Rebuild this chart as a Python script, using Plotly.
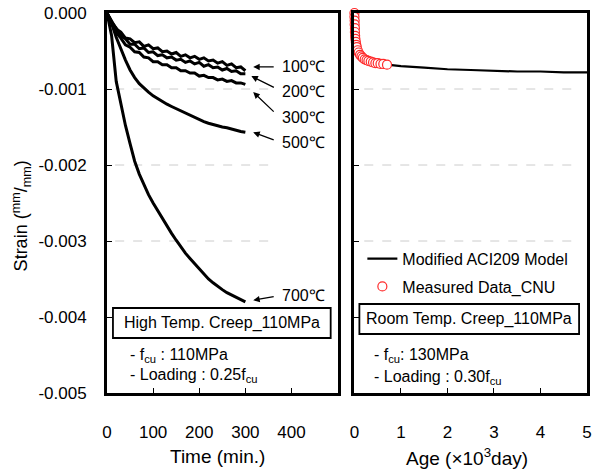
import plotly.graph_objects as go

# ---------------- data ----------------
time_min = [0, 10, 20, 30, 40, 50, 60, 70, 80, 90, 100, 110, 120, 130, 140, 150,
            160, 170, 180, 190, 200, 210, 220, 230, 240, 250, 260, 270, 280, 290, 300]

strain_100C = [0, -0.00010, -0.00021, -0.00025, -0.00033, -0.00034, -0.00039, -0.00038, -0.00044, -0.00042,
               -0.00047, -0.00046, -0.00051, -0.00050, -0.00054, -0.00052, -0.00057, -0.00055, -0.00059, -0.00057,
               -0.00061, -0.00059, -0.00063, -0.00062, -0.00066, -0.00064, -0.00069, -0.00067, -0.00072, -0.00071, -0.00076]
strain_200C = [0, -0.00012, -0.00020, -0.00030, -0.00034, -0.00041, -0.00041, -0.00047, -0.00046, -0.00052,
               -0.00051, -0.00056, -0.00055, -0.00059, -0.00058, -0.00062, -0.00061, -0.00065, -0.00063, -0.00067,
               -0.00065, -0.00070, -0.00068, -0.00072, -0.00071, -0.00075, -0.00073, -0.00077, -0.00076, -0.00080, -0.00080]
strain_300C = [0, -0.00013, -0.00026, -0.00033, -0.00042, -0.00045, -0.00051, -0.00052, -0.00058, -0.00059,
               -0.00064, -0.00064, -0.00068, -0.00068, -0.00072, -0.00072, -0.00076, -0.00076, -0.00079, -0.00079,
               -0.00083, -0.00082, -0.00085, -0.00085, -0.00088, -0.00087, -0.00090, -0.00089, -0.00092, -0.00092, -0.00094]
strain_500C = [0, -0.00014, -0.00032, -0.00048, -0.00062, -0.00075, -0.00085, -0.00093, -0.00099, -0.00104,
               -0.00109, -0.00113, -0.00116, -0.00120, -0.00123, -0.00126, -0.00129, -0.00132, -0.00135, -0.00138,
               -0.00141, -0.00143, -0.00145, -0.00147, -0.00149, -0.00150, -0.00151, -0.00153, -0.00154, -0.00156, -0.00157]
strain_700C = [0, -0.00030, -0.00090, -0.00120, -0.00148, -0.00172, -0.00195, -0.00212, -0.00226, -0.00239,
               -0.00250, -0.00260, -0.00270, -0.00281, -0.00290, -0.00299, -0.00308, -0.00316, -0.00323, -0.00330,
               -0.00337, -0.00344, -0.00350, -0.00355, -0.00360, -0.00364, -0.00368, -0.00371, -0.00374, -0.00377, -0.00380]

temp_labels = ["100℃", "200℃", "300℃", "500℃", "700℃"]

measured_age = [0.0, 0.0, 0.005, 0.005, 0.01, 0.01, 0.015, 0.02, 0.03, 0.04, 0.05, 0.07, 0.09,
                0.12, 0.15, 0.18, 0.22, 0.26, 0.30, 0.35, 0.40, 0.45, 0.50, 0.56, 0.62, 0.70]
measured_strain = [0.0, -0.00005, -0.00010, -0.00015, -0.00020, -0.00025, -0.00030, -0.00034, -0.00038,
                   -0.00042, -0.00045, -0.00049, -0.00052, -0.00055, -0.00057, -0.00059, -0.00061, -0.00062,
                   -0.00063, -0.00064, -0.00065, -0.00066, -0.00066, -0.00067, -0.00067, -0.00068]

model_age = [0.7, 1.0, 1.5, 2.0, 2.5, 3.0, 3.5, 4.0, 4.5, 5.0]
model_strain = [-0.00068, -0.00070, -0.00072, -0.00074, -0.00075, -0.00076, -0.00077, -0.00077, -0.00078, -0.00078]

y_ticks = [0, -0.001, -0.002, -0.003, -0.004, -0.005]
y_ticktext = ["0.000", "-0.001", "-0.002", "-0.003", "-0.004", "-0.005"]
x1_ticks = [0, 100, 200, 300, 400]
x2_ticks = [0, 1, 2, 3, 4, 5]
grid_levels = [-0.001, -0.002, -0.003]

# ---------------- figure ----------------
FONT = "Arial, Liberation Sans, sans-serif"
fig = go.Figure()

for s in [strain_100C, strain_200C, strain_300C, strain_500C, strain_700C]:
    fig.add_trace(go.Scatter(x=time_min, y=s, mode="lines", xaxis="x", yaxis="y",
                             line=dict(color="black", width=3), showlegend=False))

fig.add_trace(go.Scatter(x=model_age, y=model_strain, mode="lines", xaxis="x2", yaxis="y2",
                         name="Modified ACI209 Model", legendgroup="m",
                         line=dict(color="black", width=2.2), cliponaxis=False))
fig.add_trace(go.Scatter(x=measured_age, y=measured_strain, mode="markers", xaxis="x2", yaxis="y2",
                         name="Measured Data_CNU", legendgroup="d", cliponaxis=False,
                         marker=dict(symbol="circle", size=9, color="white",
                                     line=dict(color="#ff2a2a", width=1.2))))

axis_common = dict(showline=True, linewidth=3, linecolor="black", mirror=True,
                   ticks="inside", ticklen=5, tickwidth=1, tickcolor="black",
                   showgrid=False, zeroline=False,
                   tickfont=dict(family=FONT, size=17, color="black"))

fig.update_layout(
    width=593, height=469,
    margin=dict(l=107, r=1, t=13, b=76),
    paper_bgcolor="white", plot_bgcolor="white",
    xaxis=dict(domain=[0, 0.4804], range=[0, 500], tickvals=x1_ticks, anchor="y",
               ticklabelstandoff=22, **axis_common),
    yaxis=dict(domain=[0, 1], range=[-0.005, 0], tickvals=y_ticks, ticktext=y_ticktext,
               anchor="x", ticklabelstandoff=14, **axis_common),
    xaxis2=dict(domain=[0.5155, 1], range=[0, 5], tickvals=x2_ticks, anchor="y2",
                ticklabelstandoff=22, ticklabeloverflow="allow", **axis_common),
    yaxis2=dict(domain=[0, 1], range=[-0.005, 0], tickvals=y_ticks, anchor="x2",
                showticklabels=False, **axis_common),
    showlegend=True,
    legend=dict(x=0.532, y=0.398, xanchor="left", yanchor="top",
                bgcolor="rgba(0,0,0,0)", font=dict(family=FONT, size=16, color="black"),
                traceorder="grouped", tracegroupgap=4),
)

shapes = []
for g in grid_levels:
    shapes.append(dict(type="line", xref="paper", yref="y", x0=0.017, x1=0.342, y0=g, y1=g,
                       line=dict(color="#cccccc", width=1, dash="dash"), layer="below"))
    shapes.append(dict(type="line", xref="paper", yref="y", x0=0.536, x1=0.982, y0=g, y1=g,
                       line=dict(color="#cccccc", width=1, dash="dash"), layer="below"))
# info boxes
shapes.append(dict(type="rect", xref="paper", yref="paper", x0=0.0124, x1=0.466, y0=0.1447, y1=0.2237,
                   line=dict(color="black", width=1.8)))
shapes.append(dict(type="rect", xref="paper", yref="paper", x0=0.5258, x1=0.9835, y0=0.1553, y1=0.2342,
                   line=dict(color="black", width=1.8)))
fig.update_layout(shapes=shapes)

ann = []
# arrows (head at curve end, tail offset in pixels)
arrow_heads = [(317, -0.00071, 22, 0), (313, -0.00083, 24, 12), (317, -0.00104, 22, 21),
               (317, -0.00157, 22, 8), (317, -0.00378, 22, -4)]
label_y = [-0.00071, -0.00103, -0.00137, -0.00171, -0.00372]
for (hx, hy, ax, ay), lab, ly in zip(arrow_heads, temp_labels, label_y):
    ann.append(dict(x=hx, y=hy, xref="x", yref="y", text="", showarrow=True, ax=ax, ay=ay,
                    arrowhead=2, arrowsize=1, arrowwidth=1.3, arrowcolor="black", standoff=0))
    ann.append(dict(x=376, y=ly, xref="x", yref="y", text=lab, showarrow=False,
                    xanchor="left", yanchor="middle", font=dict(family=FONT, size=16, color="black")))

txt = dict(family=FONT, size=16, color="black")
ann += [
    dict(x=0.239, y=0.1842, xref="paper", yref="paper", text="High Temp. Creep_110MPa",
         showarrow=False, xanchor="center", yanchor="middle", font=txt),
    dict(x=0.7546, y=0.1947, xref="paper", yref="paper", text="Room Temp. Creep_110MPa",
         showarrow=False, xanchor="center", yanchor="middle", font=txt),
    dict(x=0.043, y=0.0974, xref="paper", yref="paper", text="- f<sub>cu</sub> : 110MPa",
         showarrow=False, xanchor="left", yanchor="middle", font=txt),
    dict(x=0.043, y=0.045, xref="paper", yref="paper", text="- Loading : 0.25f<sub>cu</sub>",
         showarrow=False, xanchor="left", yanchor="middle", font=txt),
    dict(x=0.553, y=0.0974, xref="paper", yref="paper", text="- f<sub>cu</sub>: 130MPa",
         showarrow=False, xanchor="left", yanchor="middle", font=txt),
    dict(x=0.553, y=0.040, xref="paper", yref="paper", text="- Loading : 0.30f<sub>cu</sub>",
         showarrow=False, xanchor="left", yanchor="middle", font=txt),
    dict(x=0.231, y=-0.168, xref="paper", yref="paper", text="Time (min.)",
         showarrow=False, xanchor="center", yanchor="middle",
         font=dict(family=FONT, size=19, color="black")),
    dict(x=0.75, y=-0.168, xref="paper", yref="paper", text="Age (×10<sup>3</sup>day)",
         showarrow=False, xanchor="center", yanchor="middle",
         font=dict(family=FONT, size=19, color="black")),
    dict(x=-0.179, y=0.465, xref="paper", yref="paper", text="Strain (<sup>mm</sup>/<sub>mm</sub>)",
         showarrow=False, textangle=-90, xanchor="center", yanchor="middle",
         font=dict(family=FONT, size=18, color="black")),
]
fig.update_layout(annotations=ann)

fig.write_html("out.html")
